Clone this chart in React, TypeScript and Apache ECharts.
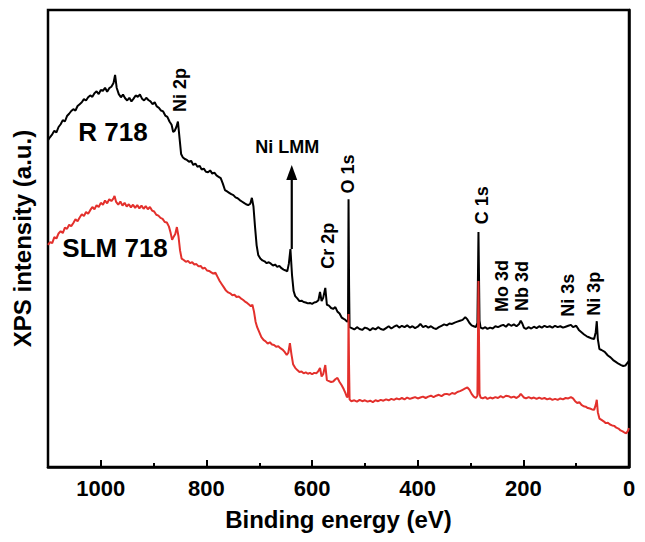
import { useEffect, useRef } from 'react';
import * as echarts from 'echarts';

const FONT = '"Liberation Sans", Arial, Helvetica, sans-serif';

// Binding energy axis ticks (eV)
const majorTickStep = 200;
const minorTickStep = 100;
const energyMin = 0;
const energyMax = 1100;

// R 718 spectrum: [binding energy (eV), intensity (a.u.)]
const r718: [number, number][] = [
  [1100, 71.5], [1096, 72.2], [1092, 72.8], [1088, 73.6], [1084, 73.2], [1080, 74.4], [1076, 75.0], [1072, 75.9],
  [1068, 75.6], [1064, 76.8], [1060, 77.3], [1056, 77.9], [1052, 78.3], [1048, 78.0], [1044, 79.0], [1040, 79.4],
  [1036, 79.8], [1032, 80.5], [1028, 80.2], [1024, 80.9], [1020, 81.3], [1016, 81.0], [1012, 81.8], [1008, 82.2],
  [1004, 81.6], [1000, 82.5], [996, 82.3], [992, 83.0], [988, 82.1], [984, 82.9], [980, 83.2], [976, 84.0],
  [973, 85.8], [970, 83.0], [966, 81.6], [962, 80.9], [958, 81.5], [954, 80.7], [950, 80.2], [946, 80.8],
  [942, 80.0], [938, 80.6], [934, 81.3], [930, 81.0], [926, 81.5], [922, 80.6], [918, 80.2], [914, 80.8],
  [910, 80.3], [906, 80.0], [902, 79.4], [898, 79.8], [894, 78.9], [890, 78.6], [886, 78.0], [882, 77.8],
  [878, 76.9], [874, 76.6], [870, 75.6], [866, 74.9], [863, 73.3], [860, 73.6], [857, 74.4], [854, 75.6],
  [851, 72.0], [848, 68.5], [845, 67.8], [841, 67.4], [837, 67.2], [833, 66.8], [829, 67.0], [825, 66.1],
  [821, 66.4], [817, 65.7], [813, 65.9], [809, 65.1], [805, 65.3], [801, 64.6], [797, 64.5], [793, 64.9],
  [789, 64.2], [785, 64.4], [781, 63.8], [777, 63.5], [773, 63.2], [769, 62.0], [765, 60.6], [761, 60.3],
  [757, 60.0], [753, 59.7], [749, 59.5], [745, 59.0], [741, 58.8], [737, 58.4], [733, 58.1], [729, 57.8],
  [725, 57.5], [721, 57.3], [717, 57.6], [714, 58.9], [711, 57.0], [708, 52.5], [705, 48.5], [702, 46.4],
  [698, 45.6], [694, 45.2], [690, 45.0], [686, 44.6], [682, 44.8], [678, 44.5], [674, 44.1], [670, 44.3],
  [666, 43.8], [662, 44.0], [658, 43.5], [654, 43.2], [650, 43.0], [647, 42.8], [644, 44.5], [641, 47.7],
  [638, 42.0], [635, 38.5], [632, 37.4], [628, 36.9], [624, 36.3], [620, 36.4], [616, 36.1], [612, 36.0],
  [608, 35.8], [604, 35.9], [600, 35.7], [596, 36.0], [592, 36.1], [588, 36.5], [585, 38.3], [582, 36.3],
  [579, 37.0], [575, 39.2], [572, 35.5], [568, 35.3], [564, 34.8], [560, 34.6], [556, 35.0], [552, 34.0],
  [548, 33.6], [544, 32.7], [540, 32.4], [537, 32.2], [534, 31.8], [532, 32.0], [531, 58.6], [530, 40.0],
  [529, 30.6], [525, 30.4], [520, 30.1], [515, 30.6], [510, 30.2], [505, 30.0], [500, 30.5], [495, 30.3],
  [490, 29.9], [485, 30.4], [480, 30.1], [475, 30.6], [470, 30.2], [465, 30.0], [460, 30.4], [455, 30.8],
  [450, 30.3], [445, 30.7], [440, 31.0], [435, 30.5], [430, 30.9], [425, 30.6], [420, 31.0], [415, 30.5],
  [410, 30.8], [405, 30.4], [400, 30.7], [395, 31.3], [390, 30.6], [385, 30.9], [380, 30.5], [375, 30.8],
  [370, 30.4], [365, 30.2], [360, 30.6], [355, 30.9], [350, 31.2], [345, 31.0], [340, 31.4], [335, 31.3],
  [330, 31.6], [325, 31.8], [320, 32.0], [315, 32.2], [310, 32.8], [306, 32.3], [302, 31.5], [298, 31.0],
  [294, 30.8], [290, 30.6], [287, 31.5], [285, 51.4], [283, 32.0], [281, 30.5], [277, 30.3], [272, 30.6],
  [268, 30.2], [263, 30.5], [258, 30.3], [253, 30.8], [248, 30.6], [243, 30.9], [238, 31.1], [233, 30.7],
  [228, 31.3], [223, 30.9], [218, 31.2], [213, 30.8], [208, 31.3], [205, 32.0], [202, 31.4], [199, 30.5],
  [195, 30.2], [190, 30.6], [185, 30.3], [180, 30.7], [175, 30.4], [170, 30.8], [165, 30.5], [160, 30.9],
  [155, 30.6], [150, 30.8], [145, 30.5], [140, 30.9], [135, 30.6], [130, 30.8], [125, 30.5], [120, 30.7],
  [115, 30.9], [110, 31.1], [106, 30.6], [100, 30.9], [95, 30.0], [90, 29.5], [85, 29.0], [80, 28.6],
  [76, 28.4], [70, 28.1], [66, 28.0], [63, 29.5], [61, 31.9], [59, 28.0], [56, 25.8], [52, 25.6],
  [46, 25.2], [40, 24.4], [35, 24.0], [30, 23.4], [25, 23.0], [20, 22.6], [15, 22.3], [11, 22.1],
  [7, 22.2], [3, 22.8], [0, 23.2],
];

// SLM 718 spectrum: [binding energy (eV), intensity (a.u.)]
const slm718: [number, number][] = [
  [1100, 48.6], [1096, 49.2], [1092, 49.0], [1088, 50.3], [1084, 50.0], [1080, 51.1], [1076, 51.6], [1072, 51.2],
  [1068, 52.4], [1064, 52.1], [1060, 53.0], [1056, 52.7], [1052, 53.4], [1048, 54.2], [1044, 53.8], [1040, 54.6],
  [1036, 55.3], [1032, 54.9], [1028, 55.8], [1024, 55.4], [1020, 56.2], [1016, 56.9], [1012, 56.4], [1008, 57.3],
  [1004, 56.9], [1000, 57.8], [996, 57.4], [992, 58.3], [988, 57.7], [984, 58.6], [980, 58.2], [976, 58.8],
  [974, 59.3], [971, 58.0], [967, 57.4], [963, 58.1], [959, 57.2], [955, 57.8], [951, 57.0], [947, 57.5],
  [943, 56.8], [939, 57.4], [935, 56.7], [931, 57.3], [927, 56.6], [923, 57.2], [919, 56.5], [915, 57.1],
  [911, 56.4], [907, 56.9], [903, 56.1], [899, 55.9], [895, 55.2], [891, 55.0], [887, 54.5], [883, 54.3],
  [879, 53.6], [875, 53.5], [871, 52.6], [868, 51.3], [865, 49.7], [862, 50.4], [859, 51.0], [856, 52.5],
  [853, 50.5], [850, 47.4], [847, 45.6], [843, 45.3], [839, 44.9], [835, 45.1], [831, 44.6], [827, 44.8],
  [823, 44.3], [819, 44.4], [815, 43.9], [811, 44.0], [807, 43.4], [803, 43.6], [799, 43.0], [795, 42.9],
  [791, 42.6], [787, 42.3], [783, 42.5], [779, 41.6], [775, 40.7], [771, 40.0], [767, 39.3], [763, 38.6],
  [759, 38.2], [755, 38.0], [751, 37.6], [747, 37.7], [743, 37.2], [739, 37.3], [735, 36.9], [731, 36.6],
  [727, 36.2], [723, 35.9], [719, 35.5], [716, 35.2], [713, 35.5], [710, 34.0], [707, 31.8], [704, 30.6],
  [700, 29.5], [696, 28.4], [692, 27.8], [688, 27.5], [684, 27.0], [680, 27.3], [676, 26.8], [672, 26.7],
  [668, 26.3], [664, 26.4], [660, 26.0], [656, 25.7], [652, 25.2], [648, 24.5], [645, 25.0], [642, 27.1],
  [639, 24.6], [636, 22.5], [632, 21.7], [628, 21.2], [624, 20.8], [620, 20.9], [616, 20.5], [612, 20.7],
  [608, 20.4], [604, 20.6], [600, 20.3], [596, 20.6], [592, 20.5], [588, 21.0], [585, 21.7], [582, 19.8],
  [579, 20.3], [575, 22.3], [572, 19.0], [568, 18.8], [564, 18.6], [560, 18.7], [556, 19.2], [552, 19.5],
  [548, 18.6], [544, 17.9], [540, 17.0], [537, 16.2], [534, 15.3], [532, 15.4], [531, 33.5], [530, 22.0],
  [529, 14.8], [526, 14.4], [520, 14.6], [515, 14.3], [510, 14.7], [505, 14.4], [500, 14.6], [495, 14.3],
  [490, 14.5], [485, 14.2], [480, 14.6], [475, 14.4], [470, 14.7], [465, 14.5], [460, 14.8], [455, 14.6],
  [450, 14.9], [445, 14.7], [440, 15.0], [435, 14.8], [430, 15.1], [425, 14.8], [420, 15.2], [415, 14.9],
  [410, 15.1], [405, 15.3], [400, 15.0], [395, 15.2], [390, 15.4], [385, 15.1], [380, 15.4], [375, 15.6],
  [370, 15.3], [365, 15.6], [360, 15.8], [355, 15.5], [350, 15.9], [345, 16.0], [340, 15.8], [335, 16.2],
  [330, 16.0], [325, 16.4], [320, 16.6], [315, 16.9], [310, 17.2], [306, 17.4], [302, 16.9], [298, 16.0],
  [294, 15.4], [290, 15.1], [287, 15.6], [285, 40.7], [283, 16.0], [281, 15.2], [277, 15.0], [272, 15.3],
  [268, 14.9], [263, 15.2], [258, 15.0], [253, 15.3], [248, 15.1], [243, 15.5], [238, 15.2], [233, 15.6],
  [228, 15.5], [223, 15.2], [218, 15.4], [213, 15.1], [208, 15.5], [205, 16.0], [202, 15.6], [199, 15.2],
  [195, 15.0], [190, 15.3], [185, 15.0], [180, 15.2], [175, 14.9], [170, 15.2], [165, 14.9], [160, 15.1],
  [155, 14.8], [150, 15.0], [145, 14.7], [140, 14.9], [135, 14.7], [130, 15.0], [125, 14.8], [120, 15.1],
  [115, 15.0], [110, 15.3], [106, 15.0], [102, 14.4], [98, 14.0], [94, 14.2], [90, 13.6], [86, 13.3],
  [82, 13.2], [78, 12.9], [74, 12.8], [70, 12.6], [66, 12.5], [63, 13.6], [61, 14.7], [59, 12.0],
  [56, 10.6], [52, 10.3], [48, 10.0], [44, 9.6], [40, 9.7], [36, 9.3], [32, 9.1], [28, 9.0],
  [24, 8.6], [20, 8.4], [16, 8.0], [12, 7.8], [8, 7.5], [5, 7.4], [2, 7.9], [0, 8.5],
];

// Peak annotations (vertical text), anchored at [energy, intensity]
const peakLabelTexts = ['Ni 2p', 'Cr 2p', 'O 1s', 'C 1s', 'Mo 3d', 'Nb 3d', 'Ni 3s', 'Ni 3p'];
const peakLabelEnergy = [850, 570, 532, 278, 240, 203, 115, 66];
const peakLabelIntensity = [82.5, 48.4, 64.1, 57.3, 39.6, 39.6, 37.6, 37.9];

// Sample names (horizontal text)
const sampleNames = ['R 718', 'SLM 718'];
const sampleNameEnergy = [977, 973];
const sampleNameIntensity = [73.3, 47.9];

// Ni LMM arrow annotation
const arrowText = 'Ni LMM';
const arrowTextAt: [number, number] = [647, 70.0];
const arrowFrom: [number, number] = [638.5, 47.7];
const arrowTo: [number, number] = [638.5, 66.1];

export default function App() {
  const ref = useRef<HTMLDivElement>(null);

  useEffect(() => {
    document.body.style.margin = '0';
    const chart = echarts.init(ref.current!, null, { renderer: 'svg' });
    const axisNameStyle = { fontFamily: FONT, fontWeight: 'bold', fontSize: 24, color: '#000' };
    chart.setOption({
      animation: false,
      backgroundColor: '#fff',
      grid: {
        left: 48, right: 16, top: 10, bottom: 75,
        show: true, borderColor: '#000', borderWidth: 2.5,
      },
      xAxis: [
        {
          type: 'value', min: energyMin, max: energyMax, interval: majorTickStep, inverse: true,
          name: 'Binding energy (eV)', nameLocation: 'middle', nameGap: 40,
          nameTextStyle: axisNameStyle,
          axisLine: { show: true, lineStyle: { color: '#000', width: 2.5 } },
          axisTick: { show: true, inside: true, length: 7, lineStyle: { color: '#000', width: 2 } },
          axisLabel: {
            fontFamily: FONT, fontWeight: 'bold', fontSize: 22, color: '#000', margin: 10,
            showMaxLabel: false,
            formatter: (v: number) => (v % majorTickStep === 0 ? String(v) : ''),
          },
          splitLine: { show: false },
        },
        {
          type: 'value', min: energyMin, max: energyMax, interval: minorTickStep, inverse: true,
          position: 'bottom',
          axisLine: { show: false },
          axisTick: { show: true, inside: true, length: 4, lineStyle: { color: '#000', width: 2 } },
          axisLabel: { show: false },
          splitLine: { show: false },
        },
      ],
      yAxis: {
        type: 'value', min: 0, max: 100,
        name: 'XPS intensity (a.u.)', nameLocation: 'middle', nameGap: 14,
        nameTextStyle: axisNameStyle,
        axisLine: { show: true, lineStyle: { color: '#000', width: 2.5 } },
        axisTick: { show: false },
        axisLabel: { show: false },
        splitLine: { show: false },
      },
      series: [
        {
          name: 'R 718', type: 'line', data: r718, xAxisIndex: 0, yAxisIndex: 0,
          showSymbol: false, symbol: 'none',
          lineStyle: { color: '#000', width: 2 },
          z: 2,
        },
        {
          name: 'SLM 718', type: 'line', data: slm718, xAxisIndex: 0, yAxisIndex: 0,
          showSymbol: false, symbol: 'none',
          lineStyle: { color: '#e3302c', width: 2 },
          z: 3,
        },
      ],
    });

    const toPx = (p: [number, number]) =>
      chart.convertToPixel({ xAxisIndex: 0, yAxisIndex: 0 }, p) as number[];

    const elements: any[] = [];
    peakLabelTexts.forEach((t, i) => {
      const [x, y] = toPx([peakLabelEnergy[i], peakLabelIntensity[i]]);
      elements.push({
        type: 'text', x, y, rotation: Math.PI / 2, z: 10,
        style: { text: t, fill: '#000', font: `bold 18px ${FONT}`, align: 'center', verticalAlign: 'middle' },
      });
    });
    sampleNames.forEach((t, i) => {
      const [x, y] = toPx([sampleNameEnergy[i], sampleNameIntensity[i]]);
      elements.push({
        type: 'text', x, y, z: 10,
        style: { text: t, fill: '#000', font: `bold 26px ${FONT}`, align: 'center', verticalAlign: 'middle' },
      });
    });
    {
      const [x, y] = toPx(arrowTextAt);
      elements.push({
        type: 'text', x, y, z: 10,
        style: { text: arrowText, fill: '#000', font: `bold 18px ${FONT}`, align: 'center', verticalAlign: 'middle' },
      });
      const [x1, y1] = toPx(arrowFrom);
      const [x2, y2] = toPx(arrowTo);
      const headLen = 15;
      const headHalf = 5.5;
      elements.push({
        type: 'line', z: 10,
        shape: { x1, y1, x2, y2: y2 + headLen - 1 },
        style: { stroke: '#000', lineWidth: 2.2 },
      });
      elements.push({
        type: 'polygon', z: 10,
        shape: { points: [[x2, y2], [x2 - headHalf, y2 + headLen], [x2 + headHalf, y2 + headLen]] },
        style: { fill: '#000' },
      });
    }
    chart.setOption({ graphic: { elements } });

    return () => chart.dispose();
  }, []);

  return <div ref={ref} style={{ width: 645, height: 542 }} />;
}
